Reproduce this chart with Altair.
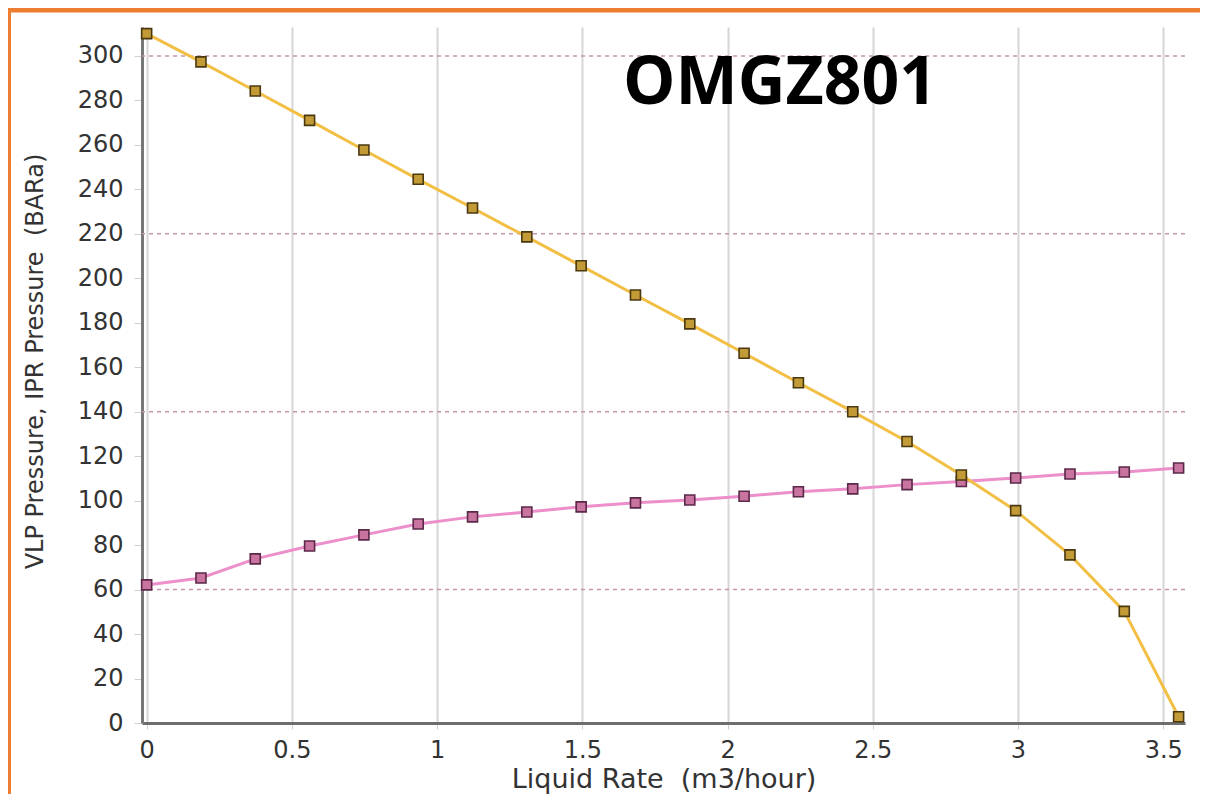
import altair as alt
import pandas as pd

# ---- data ----
rate = [0.0, 0.187, 0.374, 0.561, 0.748, 0.935, 1.122, 1.309, 1.496, 1.683,
        1.870, 2.057, 2.244, 2.431, 2.618, 2.805, 2.992, 3.179, 3.366, 3.553]
vlp = [62.1, 65.2, 73.8, 79.6, 84.6, 89.5, 92.7, 94.9, 97.2, 99.0,
       100.3, 102.0, 104.0, 105.3, 107.2, 108.6, 110.2, 112.0, 112.9, 114.7]
ipr = [310.0, 297.3, 284.2, 271.0, 257.7, 244.5, 231.6, 218.6, 205.6, 192.5,
       179.5, 166.3, 153.0, 140.0, 126.6, 111.5, 95.5, 75.6, 50.2, 2.8]
series_names = ["VLP", "IPR"]
dashed_levels = [60, 140, 220, 300]
x_ticks = [0, 0.5, 1, 1.5, 2, 2.5, 3, 3.5]
y_ticks = list(range(0, 301, 20))
chart_title = "OMGZ801"
x_title = "Liquid Rate\u00a0 (m3/hour)"
y_title = "VLP Pressure, IPR Pressure\u00a0 (BARa)"

df = pd.DataFrame({
    "rate": rate + rate,
    "pressure": vlp + ipr,
    "series": [series_names[0]] * len(rate) + [series_names[1]] * len(rate),
})
hdf = pd.DataFrame({"level": dashed_levels})

W, H = 1043, 696
PAD_L, PAD_T, PAD_R, PAD_B = 134, 19, 15, 71

xs = alt.Scale(domain=[-0.016, 3.575], nice=False, zero=False)
ys = alt.Scale(domain=[0, 313], nice=False, zero=False)

FONT = "DejaVu Sans"

x_axis = alt.Axis(
    values=x_ticks, format="~g", title=x_title,
    grid=True, gridColor="#d6d6d6", gridWidth=2,
    domainColor="#6e6e6e", domainWidth=3,
    ticks=True, tickColor="#d0d0d0", tickSize=6, labelPadding=9,
    labelFont=FONT, labelFontSize=24, labelColor="#333333", labelFlush=False,
    titleFont=FONT, titleFontSize=27, titleFontWeight="normal", titleColor="#333333",
    titleBaseline="alphabetic", titleY=64,
)
y_axis = alt.Axis(
    values=y_ticks, format="d", title=y_title,
    grid=False,
    domainColor="#777777", domainWidth=3,
    ticks=True, tickColor="#d0d0d0", tickSize=8, labelPadding=11,
    labelFont=FONT, labelFontSize=24, labelColor="#333333",
    titleFont=FONT, titleFontSize=24, titleFontWeight="normal", titleColor="#333333",
    titleAngle=270, titleBaseline="alphabetic", titleAlign="center",
    titleX=-100, titleY=334,
)

hrules = alt.Chart(hdf).mark_rule(
    color="#c497ad", strokeWidth=1.5, strokeDash=[4, 4]
).encode(y=alt.Y("level:Q", scale=ys, axis=y_axis))

lines = alt.Chart(df).mark_line(strokeWidth=3).encode(
    x=alt.X("rate:Q", scale=xs, axis=x_axis),
    y=alt.Y("pressure:Q", scale=ys),
    color=alt.Color("series:N", scale=alt.Scale(domain=series_names,
                    range=["#ec8fca", "#f2bf45"]), legend=None),
)

points = alt.Chart(df).mark_point(
    shape="square", filled=True, size=100, strokeWidth=1.6, opacity=1
).encode(
    x=alt.X("rate:Q", scale=xs),
    y=alt.Y("pressure:Q", scale=ys),
    fill=alt.Fill("series:N", scale=alt.Scale(domain=series_names,
                  range=["#c9739f", "#c29a36"]), legend=None),
    stroke=alt.Stroke("series:N", scale=alt.Scale(domain=series_names,
                      range=["#5a2848", "#4a3810"]), legend=None),
)

deco = alt.Data(values=[{"k": 1}])
left_band = alt.Chart(deco).mark_rule(color="#ED7D31", strokeWidth=6).encode(
    x=alt.value(-PAD_L), y=alt.value(-PAD_T), y2=alt.value(H + PAD_B))
top_band = alt.Chart(deco).mark_rule(color="#ED7D31", strokeWidth=5).encode(
    y=alt.value(-PAD_T + 2), x=alt.value(-PAD_L), x2=alt.value(W + PAD_R))

chart = alt.layer(hrules, lines, points, left_band, top_band).properties(
    width=W, height=H,
    autosize=alt.AutoSizeParams(type="none"),
    padding={"left": PAD_L, "top": PAD_T, "right": PAD_R, "bottom": PAD_B},
    background="white",
    title=alt.TitleParams(
        chart_title, font="Open Sans", fontSize=66, fontWeight=700, color="#000000",
        anchor="start", frame="group", dx=481, dy=165, baseline="alphabetic", offset=0,
    ),
).configure_view(stroke=None)

chart.save("out.html", embed_options={"renderer": "svg", "actions": False})
